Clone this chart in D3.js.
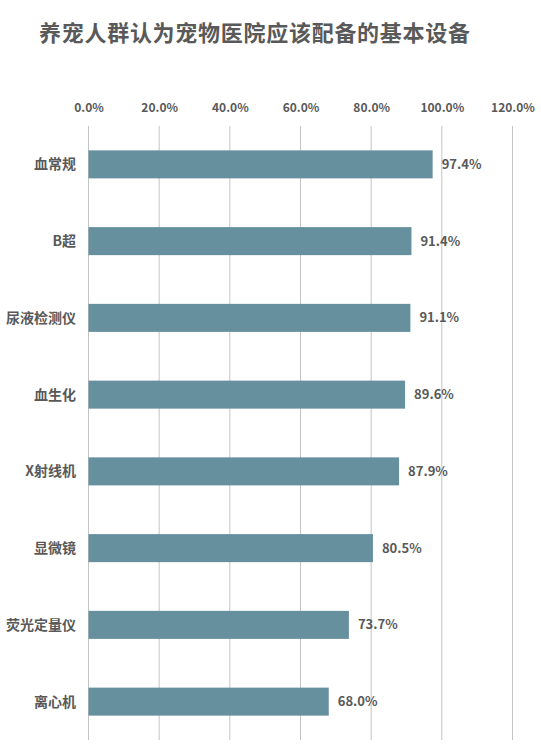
<!DOCTYPE html>
<html><head><meta charset="utf-8">
<script src="https://cdn.jsdelivr.net/npm/d3@7/dist/d3.min.js"></script>
<style>body{margin:0;background:#fff}</style>
</head><body>
<svg id="chart" width="541" height="749"></svg>
<script>
const titleText = "养宠人群认为宠物医院应该配备的基本设备";
const categories = ["血常规","B超","尿液检测仪","血生化","X射线机","显微镜","荧光定量仪","离心机"];
const values = [97.4, 91.4, 91.1, 89.6, 87.9, 80.5, 73.7, 68.0];
const tickValues = [0, 20, 40, 60, 80, 100, 120];

const svg = d3.select("#chart");
const font = "'Noto Sans CJK SC', 'Open Sans', sans-serif";
const textColor = "#595959";

svg.append("text").attr("x", 39).attr("y", 41)
  .attr("font-family", font).attr("font-weight", "bold").attr("font-size", 22)
  .attr("textLength", 431).attr("lengthAdjust", "spacing")
  .attr("fill", textColor).text(titleText);

const x = d3.scaleLinear().domain([0, 120]).range([88.5, 512.5]);
const y = d3.scaleBand().domain(categories).range([126, 740]).paddingInner(0.635).paddingOuter(0.3175);

// gridlines
svg.append("g").selectAll("line").data(tickValues).join("line")
  .attr("x1", d => x(d)).attr("x2", d => x(d))
  .attr("y1", 126).attr("y2", 740)
  .attr("stroke", "#c4c4c4").attr("stroke-width", 1);

// top axis labels
const axis = d3.axisTop(x).tickValues(tickValues).tickSize(0).tickFormat(d => d.toFixed(1) + "%");
const ag = svg.append("g").attr("transform", "translate(0,115)").call(axis);
ag.select(".domain").remove();
ag.selectAll("text").attr("font-family", font).attr("font-weight", "bold")
  .attr("font-size", 12).attr("fill", textColor);

// bars
svg.append("g").selectAll("rect").data(values).join("rect")
  .attr("x", x(0)).attr("y", (d, i) => y(categories[i]))
  .attr("width", d => x(d) - x(0)).attr("height", y.bandwidth())
  .attr("fill", "#66909e");

// category labels
svg.append("g").selectAll("text").data(categories).join("text")
  .attr("x", 76).attr("y", d => y(d) + y.bandwidth() / 2)
  .attr("dy", "0.35em").attr("text-anchor", "end")
  .attr("font-family", font).attr("font-weight", "bold").attr("font-size", 14)
  .attr("fill", textColor).text(d => d);

// value labels
svg.append("g").selectAll("text").data(values).join("text")
  .attr("x", d => x(d) + 9).attr("y", (d, i) => y(categories[i]) + y.bandwidth() / 2)
  .attr("dy", "0.35em")
  .attr("font-family", font).attr("font-weight", "bold").attr("font-size", 13)
  .attr("fill", textColor).text(d => d.toFixed(1) + "%");
</script>
</body></html>
